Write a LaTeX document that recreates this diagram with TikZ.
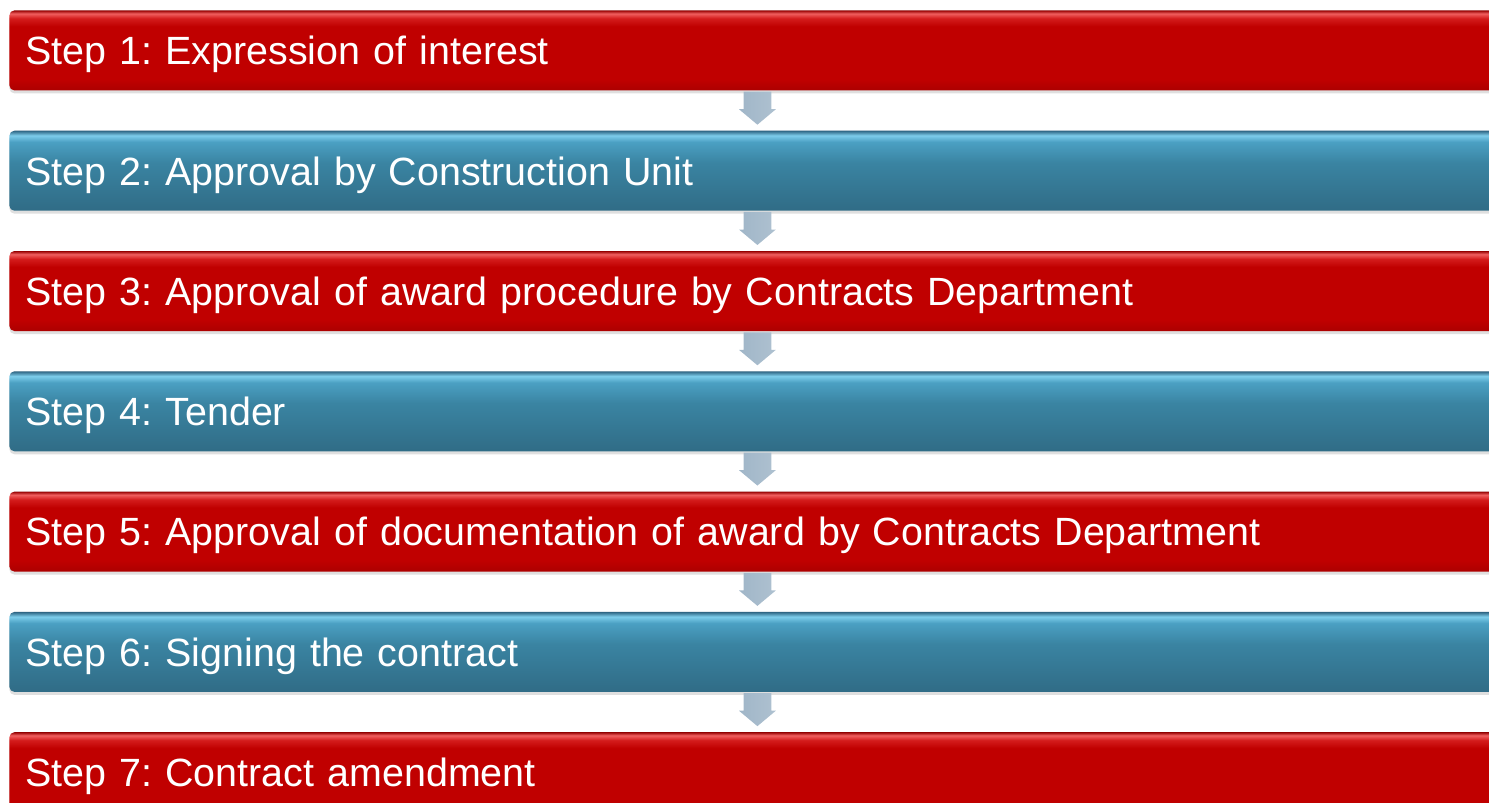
\documentclass[tikz,border=0pt]{standalone}
\usepackage{fontspec}
\setmainfont{Liberation Sans}
\usetikzlibrary{positioning,shapes.arrows,shadows}
\frenchspacing

\definecolor{redEdge}{RGB}{150,0,0}
\definecolor{redGloss}{RGB}{240,95,95}
\definecolor{redLight}{RGB}{212,28,28}
\definecolor{redMain}{RGB}{192,0,0}
\definecolor{redLow}{RGB}{172,0,0}
\definecolor{blueEdge}{RGB}{45,100,130}
\definecolor{blueGloss}{RGB}{125,205,235}
\definecolor{blueLight}{RGB}{75,160,195}
\definecolor{blueMain}{RGB}{58,132,162}
\definecolor{blueLow}{RGB}{48,108,134}
\definecolor{arrowDark}{RGB}{160,182,200}
\definecolor{arrowLight}{RGB}{228,238,245}

% glossy bars, bottom to top (path covers 25bp..75bp)
\pgfdeclareverticalshading{redbar}{100bp}{color(0bp)=(redLow); color(25bp)=(redLow);
  color(32bp)=(redMain); color(65bp)=(redMain); color(70bp)=(redLight);
  color(73bp)=(redGloss); color(75bp)=(redEdge); color(100bp)=(redEdge)}
\pgfdeclareverticalshading{bluebar}{100bp}{color(0bp)=(blueLow); color(25bp)=(blueLow);
  color(55bp)=(blueMain); color(68bp)=(blueLight); color(72bp)=(blueGloss);
  color(75bp)=(blueEdge); color(100bp)=(blueEdge)}

\begin{document}
\begin{tikzpicture}[
		stepbox/.style={rectangle, rounded corners=2.5pt, minimum height=40pt,
			text width=732pt, inner xsep=8pt, inner ysep=0pt, align=left,
			text height=14.3pt, text depth=0pt, text=white,
			font=\fontsize{19.7pt}{24pt}\selectfont,
			drop shadow={shadow xshift=0pt, shadow yshift=-1.5pt, opacity=0.25}},
		redstep/.style={stepbox, shade, shading=redbar},
		bluestep/.style={stepbox, shade, shading=bluebar},
		downarrow/.style={single arrow, shape border rotate=270,
			inner xsep=6.75pt, inner ysep=0pt,
			minimum height=16.5pt, single arrow head extend=2.25pt,
			single arrow tip angle=100,
			left color=arrowDark, middle color=arrowLight, right color=arrowDark!85},
		node distance=19.75pt
	]
		% page size of the slide
		\useasboundingbox (0,0) rectangle (744.5pt,-401.5pt);
		\clip (0,0) rectangle (744.5pt,-401.5pt);
		
		\node (s1) [redstep, anchor=north west] at (4.5pt,-5pt) {Step 1: Expression of interest};
		\node (s2) [bluestep, below=of s1] {Step 2: Approval by Construction Unit};
		\node (s3) [redstep, below=of s2] {Step 3: Approval of award procedure by Contracts Department};
		\node (s4) [bluestep, below=of s3] {Step 4: Tender};
		\node (s5) [redstep, below=of s4] {Step 5: Approval of documentation of award by Contracts Department};
		\node (s6) [bluestep, below=of s5] {Step 6: Signing the contract};
		\node (s7) [redstep, below=of s6] {Step 7: Contract amendment};
		
		% arrows between the steps
		\foreach \a/\b in {s1/s2,s2/s3,s3/s4,s4/s5,s5/s6,s6/s7}
		\path (\a.south) -- (\b.north) node[midway, downarrow, yshift=4.1pt] (arr\a) {};
	\end{tikzpicture}
\end{document}
